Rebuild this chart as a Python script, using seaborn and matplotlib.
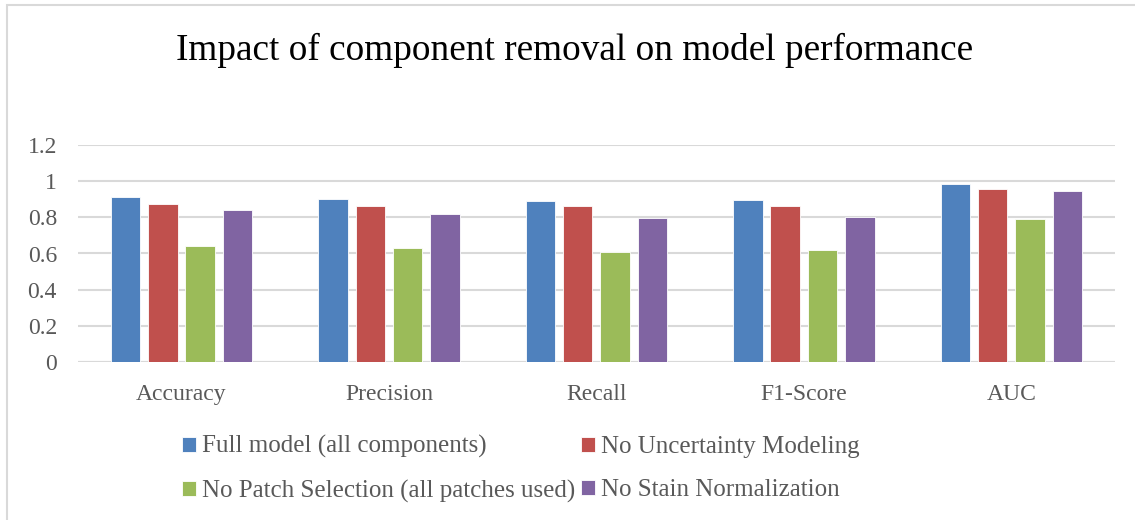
import matplotlib
matplotlib.use("Agg")
import matplotlib.pyplot as plt
import pandas as pd
import seaborn as sns
from matplotlib.patches import Rectangle

# values
metrics = ["Accuracy", "Precision", "Recall", "F1-Score", "AUC"]
variants = [
    "Full model (all components)",
    "No Uncertainty Modeling",
    "No Patch Selection (all patches used)",
    "No Stain Normalization",
]
full_model = [0.91, 0.90, 0.89, 0.895, 0.985]
no_uncertainty = [0.872, 0.86, 0.86, 0.865, 0.956]
no_patch_sel = [0.64, 0.63, 0.61, 0.62, 0.788]
no_stain_norm = [0.84, 0.82, 0.795, 0.80, 0.943]
yticks = [0, 0.2, 0.4, 0.6, 0.8, 1.0, 1.2]
ytick_labels = ["0", "0.2", "0.4", "0.6", "0.8", "1", "1.2"]

colors = ["#4F81BD", "#C0504D", "#9BBB59", "#8064A2"]
GRID = "#D9D9D9"
TEXT = "#595959"

rows = []
for name, vals in zip(variants, [full_model, no_uncertainty, no_patch_sel, no_stain_norm]):
    for m, v in zip(metrics, vals):
        rows.append({"metric": m, "score": v, "variant": name})
df = pd.DataFrame(rows)

sns.set_theme(style="white")
plt.rcParams["font.family"] = ["Liberation Serif", "DejaVu Serif"]

fig = plt.figure(figsize=(11.35, 5.2), dpi=100)
ax = fig.add_axes([0.0685, 0.3038, 0.9139, 0.4174])

sns.barplot(
    data=df, x="metric", y="score", hue="variant", order=metrics,
    hue_order=variants, palette=colors, saturation=1, width=0.72, gap=0.21,
    edgecolor="white", linewidth=0.6, ax=ax, legend=True,
)

ax.set_ylim(0, 1.2)
ax.set_xlim(-0.5, len(metrics) - 0.5)
ax.set_yticks(yticks)
ax.set_yticklabels(ytick_labels)
ax.yaxis.grid(True, color=GRID, linewidth=1.5)
ax.set_axisbelow(True)
for s in ax.spines.values():
    s.set_visible(False)
ax.axhline(0, color=GRID, linewidth=1.5, zorder=0)
ax.set_xlabel("")
ax.set_ylabel("")
ax.tick_params(axis="y", length=0, pad=15, labelsize=17, labelcolor=TEXT)
ax.tick_params(axis="x", length=0, pad=16, labelsize=17, labelcolor=TEXT)

# row-wise legend order like Excel
handles, labels = ax.get_legend_handles_labels()
ax.get_legend().remove()
order = [0, 2, 1, 3]
fig.legend(
    [handles[i] for i in order], [labels[i] for i in order], ncol=2,
    loc="center", bbox_to_anchor=(0.459, 0.098),
    frameon=False, fontsize=18, labelcolor=TEXT, handlelength=0.55,
    handleheight=0.55, handletextpad=0.25, columnspacing=0.25, labelspacing=0.85,
)

fig.text(0.506, 0.903, "Impact of component removal on model performance",
         ha="center", va="center", fontsize=26.8, color="black")

# chart frame like the source (right and bottom edges fall outside the crop)
fig.patches.append(Rectangle((7 / 1135, -0.05), 1.1, 1 - 5 / 520 + 0.05,
                             transform=fig.transFigure, fill=False,
                             edgecolor=GRID, linewidth=1.5))

fig.savefig("out.png", dpi=100)
